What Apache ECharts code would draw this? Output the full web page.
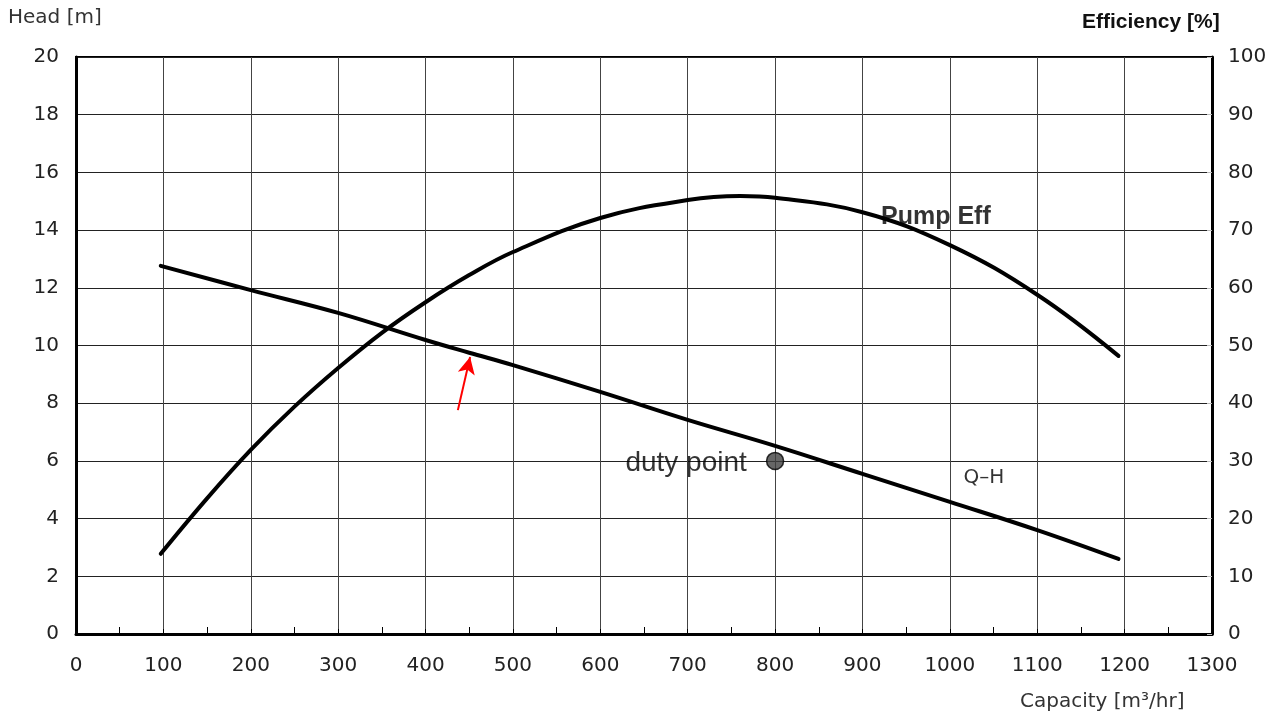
<!DOCTYPE html>
<html><head><meta charset="utf-8">
<script src="https://cdn.jsdelivr.net/npm/echarts@6/dist/echarts.min.js"></script>
<style>html,body{margin:0;padding:0;background:#fff}#c{width:1275px;height:717px}</style>
</head><body><div id="c"></div>
<script>
const qhCapacity = [97, 200, 300, 400, 450, 500, 600, 700, 800, 900, 1000, 1100, 1193];
const qhHead = [12.76, 11.92, 11.13, 10.19, 9.75, 9.32, 8.39, 7.42, 6.52, 5.55, 4.58, 3.6, 2.6];
const effCapacity = [97, 150, 200, 250, 300, 350, 400, 450, 500, 600, 700, 760, 800, 900, 1000, 1100, 1193];
const effValue = [13.9, 23.5, 31.9, 39.4, 46.1, 52.2, 57.5, 62.2, 66.2, 72.1, 75.2, 75.9, 75.6, 73.1, 67.4, 58.8, 48.2];
const dutyPoint = [800, 6];
const arrowFrom = [437, 7.76];
const arrowTo = [451, 9.6];
const xTicks = {min: 0, max: 1300, interval: 100};
const headTicks = {min: 0, max: 20, interval: 2};
const effTicks = {min: 0, max: 100, interval: 10};

const ARIAL = '"Liberation Sans", Arial, sans-serif';
const GULIM = '"DejaVu Sans", sans-serif';
const chart = echarts.init(document.getElementById('c'));
const labelStyle = {color: '#222', fontSize: 20, fontFamily: GULIM, formatter: v => String(v)};
chart.setOption({
  animation: false,
  grid: {left: 76, right: 63, top: 57, bottom: 83, show: true, borderColor: '#000', borderWidth: 2},
  xAxis: {
    type: 'value', min: xTicks.min, max: xTicks.max, interval: xTicks.interval,
    axisLine: {show: true, onZero: false, lineStyle: {color: '#000', width: 3}},
    axisTick: {show: true, inside: true, length: 5, lineStyle: {color: '#000'}},
    minorTick: {show: true, splitNumber: 2, length: 7, lineStyle: {color: '#000'}},
    axisLabel: Object.assign({}, labelStyle, {margin: 22}),
    splitLine: {show: true, lineStyle: {color: '#444', width: 1}}
  },
  yAxis: [{
    type: 'value', min: headTicks.min, max: headTicks.max, interval: headTicks.interval,
    axisLine: {show: true, lineStyle: {color: '#000', width: 3}},
    axisTick: {show: false},
    axisLabel: Object.assign({}, labelStyle, {margin: 17}),
    splitLine: {show: true, lineStyle: {color: '#222', width: 1}}
  }, {
    type: 'value', position: 'right', min: effTicks.min, max: effTicks.max, interval: effTicks.interval,
    axisLine: {show: true, lineStyle: {color: '#000', width: 3}},
    axisTick: {show: true, inside: true, length: 5, lineStyle: {color: '#bbb'}},
    axisLabel: Object.assign({}, labelStyle, {margin: 16}),
    splitLine: {show: false}
  }],
  graphic: [
    {type: 'text', left: 8, top: 8, style: {text: 'Head [m]', fontSize: 20, fontFamily: GULIM, fill: '#333'}},
    {type: 'text', left: 1082, top: 12, style: {text: 'Efficiency [%]', fontSize: 21, fontWeight: 'bold', fontFamily: ARIAL, fill: '#111'}},
    {type: 'text', left: 1020, top: 692, style: {text: 'Capacity [m\u00b3/hr]', fontSize: 20, fontFamily: GULIM, fill: '#333'}}
  ],
  series: [{
    name: 'Q-H', type: 'line', yAxisIndex: 0, smooth: 0.4, symbol: 'none',
    lineStyle: {color: '#000', width: 4, cap: 'round'},
    data: qhCapacity.map((x, i) => [x, qhHead[i]]),
    markLine: {
      silent: true, symbol: ['none', 'arrow'], symbolSize: [13, 17],
      lineStyle: {color: '#f00', width: 2, type: 'solid'}, label: {show: false},
      data: [[{coord: arrowFrom}, {coord: arrowTo}]]
    }
  }, {
    name: 'Pump Eff', type: 'line', yAxisIndex: 1, smooth: 0.4, symbol: 'none',
    lineStyle: {color: '#000', width: 4, cap: 'round'},
    data: effCapacity.map((x, i) => [x, effValue[i]])
  }, {
    name: 'duty point', type: 'scatter', yAxisIndex: 0, symbolSize: 17,
    itemStyle: {color: '#404040', borderColor: '#000', borderWidth: 1.5},
    label: {show: true, position: 'left', distance: 19, offset: [0, 2], formatter: 'duty point', color: '#000', fontSize: 28, fontFamily: ARIAL},
    data: [dutyPoint]
  }, {
    type: 'scatter', yAxisIndex: 0, symbolSize: 0, silent: true,
    label: {show: true, position: 'inside', formatter: p => p.name, color: '#000'},
    data: [
      {name: 'Pump Eff', value: [984, 14.45], label: {fontSize: 25, fontWeight: 'bold', fontFamily: ARIAL}},
      {name: 'Q\u2013H', value: [1039, 5.42], label: {fontSize: 20, fontFamily: GULIM}}
    ]
  }]
});
</script></body></html>
